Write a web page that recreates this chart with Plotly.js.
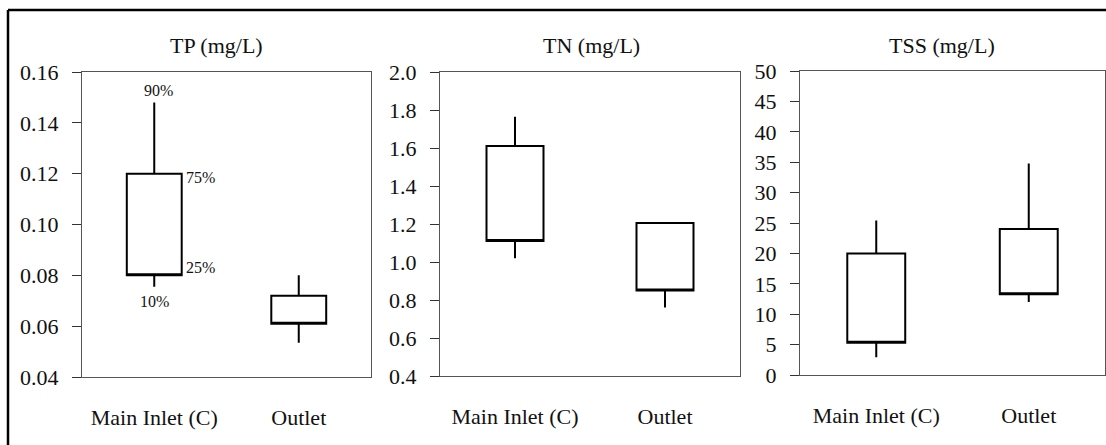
<!DOCTYPE html>
<html>
<head>
<meta charset="utf-8">
<script src="https://cdn.plot.ly/plotly-3.0.1.min.js"></script>
<style>html,body{margin:0;padding:0;background:#fff;}#chart{width:1106px;height:445px;}</style>
</head>
<body>
<div id="chart"></div>
<script>
// ---- data ----
const categories = ['Main Inlet (C)', 'Outlet'];
const positions = [1, 2];
const panelTitles = ['TP (mg/L)', 'TN (mg/L)', 'TSS (mg/L)'];

const tpP10 = [0.0755, 0.0535];
const tpP25 = [0.080, 0.061];
const tpP75 = [0.120, 0.072];
const tpP90 = [0.148, 0.080];

const tnP10 = [1.02, 0.76];
const tnP25 = [1.11, 0.85];
const tnP75 = [1.61, 1.205];
const tnP90 = [1.765, 1.205];

const tssP10 = [2.9, 12.0];
const tssP25 = [5.3, 13.3];
const tssP75 = [20.0, 24.0];
const tssP90 = [25.4, 34.8];

const percentileLabels = ['10%', '25%', '75%', '90%'];

const yRanges = [[0.04, 0.16], [0.4, 2.0], [0, 50]];
const yDticks = [0.02, 0.2, 5];
const yFormats = ['.2f', '.1f', 'd'];

// ---- layout geometry ----
const W = 1106, H = 445;
const panelsPx = [
  {x0: 82, x1: 371, y0: 72, y1: 377},
  {x0: 440, x1: 740, y0: 72, y1: 376},
  {x0: 800, x1: 1105, y0: 71, y1: 375}
];
const titleCenters = [216, 591, 942];

const FONT = 'Liberation Serif';
const AXC = '#555';
const TXT = '#111';
const series = [
  [tpP10, tpP25, tpP75, tpP90],
  [tnP10, tnP25, tnP75, tnP90],
  [tssP10, tssP25, tssP75, tssP90]
];

const traces = [];
const layout = {
  width: W, height: H,
  margin: {l: 0, r: 0, t: 0, b: 0},
  paper_bgcolor: '#fff', plot_bgcolor: '#fff',
  showlegend: false,
  font: {family: FONT, size: 22, color: TXT},
  annotations: [],
  shapes: [
    {type: 'line', xref: 'paper', yref: 'paper', x0: 8 / W, x1: 1, y0: 1 - 10 / H, y1: 1 - 10 / H, line: {color: '#000', width: 2.5}},
    {type: 'line', xref: 'paper', yref: 'paper', x0: 8 / W, x1: 8 / W, y0: 1 - 10 / H, y1: 0, line: {color: '#000', width: 2.5}}
  ]
};

panelsPx.forEach((p, i) => {
  const n = i + 1;
  const xa = 'x' + (n === 1 ? '' : n), ya = 'y' + (n === 1 ? '' : n);
  const xKey = 'xaxis' + (n === 1 ? '' : n), yKey = 'yaxis' + (n === 1 ? '' : n);
  const xOut = 3 + n, xIn = 6 + n, yIn = 3 + n;
  const dom = [p.x0 / W, p.x1 / W];
  const ydom = [1 - p.y1 / H, 1 - p.y0 / H];
  const [p10, p25, p75, p90] = series[i];

  traces.push({
    type: 'box', xaxis: xa, yaxis: ya,
    x: positions,
    q1: p25, median: p25, q3: p75,
    lowerfence: p10, upperfence: p90,
    width: 0.38, whiskerwidth: 0,
    fillcolor: '#fff',
    line: {color: '#000', width: 2},
    boxpoints: false, hoverinfo: 'skip'
  });

  layout[xKey] = {
    domain: dom, anchor: ya, range: [0.5, 2.5],
    tickvals: positions, ticktext: categories, ticks: '',
    ticklabelstandoff: 21,
    showline: true, linecolor: AXC, linewidth: 1, mirror: true,
    showgrid: false, zeroline: false, fixedrange: true,
    tickfont: {family: FONT, size: 22, color: TXT}
  };
  layout['xaxis' + xOut] = {
    overlaying: xa, anchor: ya, range: [0.5, 2.5],
    tickvals: [0.5, 1.5, 2.5], ticks: 'outside', ticklen: 8, tickwidth: 1, tickcolor: '#333',
    showticklabels: false, showline: false, showgrid: false, zeroline: false
  };
  layout['xaxis' + xIn] = {
    overlaying: xa, anchor: ya, range: [0.5, 2.5],
    tickvals: [0.5, 1.5, 2.5], ticks: 'inside', ticklen: 10, tickwidth: 1, tickcolor: '#333',
    showticklabels: false, showline: false, showgrid: false, zeroline: false
  };
  layout[yKey] = {
    domain: ydom, anchor: xa, range: yRanges[i],
    dtick: yDticks[i], tick0: yRanges[i][0], tickformat: yFormats[i],
    ticks: 'outside', ticklen: 9, tickwidth: 1, tickcolor: '#333',
    ticklabelstandoff: 9,
    showline: true, linecolor: AXC, linewidth: 1, mirror: true,
    showgrid: false, zeroline: false, fixedrange: true,
    tickfont: {family: FONT, size: 22, color: TXT}
  };
  layout['yaxis' + yIn] = {
    overlaying: ya, anchor: xa, range: yRanges[i],
    dtick: yDticks[i], tick0: yRanges[i][0],
    ticks: 'inside', ticklen: 8, tickwidth: 1, tickcolor: '#333',
    showticklabels: false, showline: false, showgrid: false, zeroline: false
  };

  layout.annotations.push({
    text: panelTitles[i], xref: 'paper', yref: 'paper',
    x: titleCenters[i] / W, y: 1 - 45 / H, xanchor: 'center', yanchor: 'middle',
    showarrow: false, font: {family: FONT, size: 22, color: TXT}
  });
});

// percentile labels on first box
const half = 0.19;
const pf = {family: FONT, size: 16, color: TXT};
layout.annotations.push(
  {text: percentileLabels[3], xref: 'x', yref: 'y', x: positions[0], y: tpP90[0], xanchor: 'center', yanchor: 'bottom', xshift: 4, yshift: 2, showarrow: false, font: pf},
  {text: percentileLabels[2], xref: 'x', yref: 'y', x: positions[0] + half, y: tpP75[0], xanchor: 'left', yanchor: 'middle', xshift: 2, yshift: -4, showarrow: false, font: pf},
  {text: percentileLabels[1], xref: 'x', yref: 'y', x: positions[0] + half, y: tpP25[0], xanchor: 'left', yanchor: 'middle', xshift: 2, yshift: 8, showarrow: false, font: pf},
  {text: percentileLabels[0], xref: 'x', yref: 'y', x: positions[0], y: tpP10[0], xanchor: 'center', yanchor: 'top', yshift: -4, showarrow: false, font: pf}
);

Plotly.newPlot('chart', traces, layout, {displayModeBar: false, staticPlot: true});
</script>
</body>
</html>
